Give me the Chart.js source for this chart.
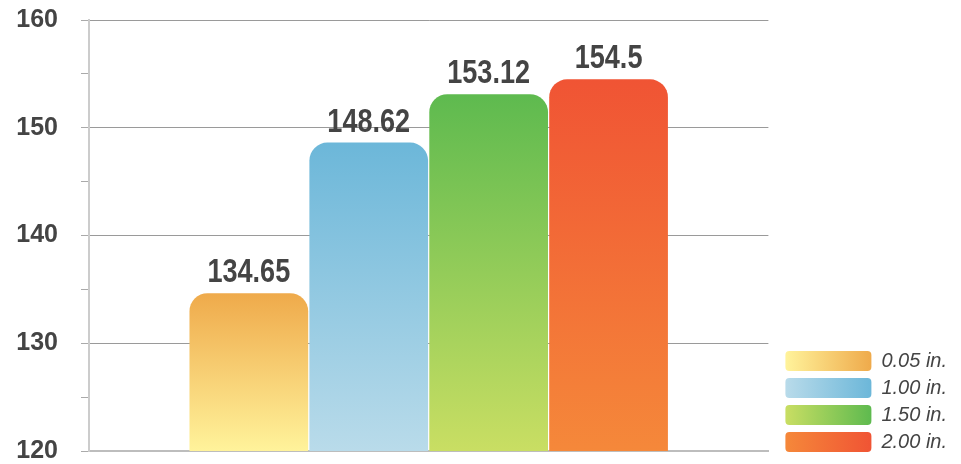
<!DOCTYPE html>
<html>
<head>
<meta charset="utf-8">
<script src="https://cdn.jsdelivr.net/npm/chart.js@4/dist/chart.umd.min.js"></script>
<style>
  html, body { margin: 0; padding: 0; background: #fff; }
  #wrap { width: 961px; height: 464px; position: relative; }
</style>
</head>
<body>
<div id="wrap"><canvas id="chart"></canvas></div>
<script>
// Data
const categories = [''];
const seriesNames = ['0.05 in.', '1.00 in.', '1.50 in.', '2.00 in.'];
const seriesValues = [134.65, 148.62, 153.12, 154.5];
const tickValues = [120, 130, 140, 150, 160];

// Farger: [topp, bunn]
const topColors = ['#EFAA4B', '#6CB7D9', '#5EBA4F', '#F05434'];
const bottomColors = ['#FFF39B', '#B9DBEA', '#C9DE63', '#F5883A'];

const FONT = '"Liberation Sans", Arial, sans-serif';
const TEXT_COLOR = '#444444';

function barGradient(ctx, i) {
    const chart = ctx.chart;
    if (!chart.chartArea) return topColors[i];
    const yScale = chart.scales.y;
    const top = yScale.getPixelForValue(seriesValues[i]);
    const bottom = chart.chartArea.bottom;
    const g = chart.ctx.createLinearGradient(0, bottom, 0, top);
    g.addColorStop(0, bottomColors[i]);
    g.addColorStop(1, topColors[i]);
    return g;
}

const datasets = seriesNames.map((name, i) => ({
    label: name,
    data: [seriesValues[i]],
    backgroundColor: ctx => barGradient(ctx, i),
    borderWidth: 0,
    borderRadius: { topLeft: 18, topRight: 18, bottomLeft: 0, bottomRight: 0 },
    borderSkipped: false,
    barPercentage: 0.99,
    categoryPercentage: 0.706
}));

// Verdier over stolpene (smal skrift via horisontal skalering)
const valueLabels = {
    id: 'valueLabels',
    afterDraw(chart) {
        const ctx = chart.ctx;
        ctx.save();
        ctx.font = 'bold 33px ' + FONT;
        ctx.fillStyle = TEXT_COLOR;
        ctx.textAlign = 'center';
        ctx.textBaseline = 'alphabetic';
        chart.data.datasets.forEach((ds, i) => {
            const bar = chart.getDatasetMeta(i).data[0];
            ctx.save();
            ctx.translate(bar.x, bar.y - 11);
            ctx.scale(0.82, 1);
            ctx.fillText(String(ds.data[0]), 0, 0);
            ctx.restore();
        });
        ctx.restore();
    }
};

// Gradient i legend-boksene
const legendGradients = {
    id: 'legendGradients',
    afterUpdate(chart) {
        const legend = chart.legend;
        if (!legend || !legend.legendItems) return;
        const boxW = legend.options.labels.boxWidth;
        legend.legendItems.forEach((item, i) => {
            const hb = legend.legendHitBoxes[i];
            if (!hb) return;
            const g = chart.ctx.createLinearGradient(hb.left, 0, hb.left + boxW, 0);
            g.addColorStop(0, bottomColors[i]);
            g.addColorStop(1, topColors[i]);
            item.fillStyle = g;
            item.strokeStyle = 'rgba(0,0,0,0)';
            item.lineWidth = 0;
        });
    }
};

new Chart(document.getElementById('chart'), {
    type: 'bar',
    data: { labels: categories, datasets: datasets },
    options: {
        responsive: true,
        maintainAspectRatio: false,
        animation: false,
        layout: { padding: { top: 20, bottom: 5, left: 0, right: 4 } },
        scales: {
            x: {
                z: 1,
                ticks: { display: false },
                grid: { display: false },
                border: { color: '#bdbdbd', width: 2 },
                afterFit: s => { s.height = 8; s.paddingLeft = 0; s.paddingRight = 0; }
            },
            y: {
                z: 1,
                min: 120,
                max: 160,
                afterBuildTicks: s => {
                    const t = [];
                    for (let v = tickValues[0]; v <= tickValues[tickValues.length - 1]; v += 5) t.push({ value: v });
                    s.ticks = t;
                },
                ticks: {
                    padding: 23,
                    color: TEXT_COLOR,
                    font: { family: FONT, size: 25, weight: 'bold' },
                    callback: v => tickValues.includes(v) ? String(v) : ''
                },
                grid: {
                    color: c => (c.tick && tickValues.includes(c.tick.value)) ? '#9a9a9a' : 'rgba(0,0,0,0)',
                    tickColor: '#aaaaaa',
                    tickLength: 8,
                    lineWidth: 1
                },
                border: { color: '#cccccc', width: 2 },
                afterFit: s => { s.width = 89; s.paddingTop = 0; s.paddingBottom = 0; }
            },
            spacer: {
                type: 'linear',
                position: 'right',
                display: true,
                ticks: { display: false },
                grid: { display: false },
                border: { display: false },
                afterFit: s => { s.width = 10; s.paddingTop = 0; s.paddingBottom = 0; }
            }
        },
        plugins: {
            legend: {
                position: 'right',
                align: 'end',
                maxWidth: 240,
                labels: {
                    boxWidth: 86,
                    boxHeight: 20,
                    padding: 7,
                    useBorderRadius: true,
                    borderRadius: 4,
                    color: TEXT_COLOR,
                    font: { family: FONT, size: 20, style: 'italic' }
                }
            },
            tooltip: { enabled: false }
        }
    },
    plugins: [legendGradients, valueLabels]
});
</script>
</body>
</html>
